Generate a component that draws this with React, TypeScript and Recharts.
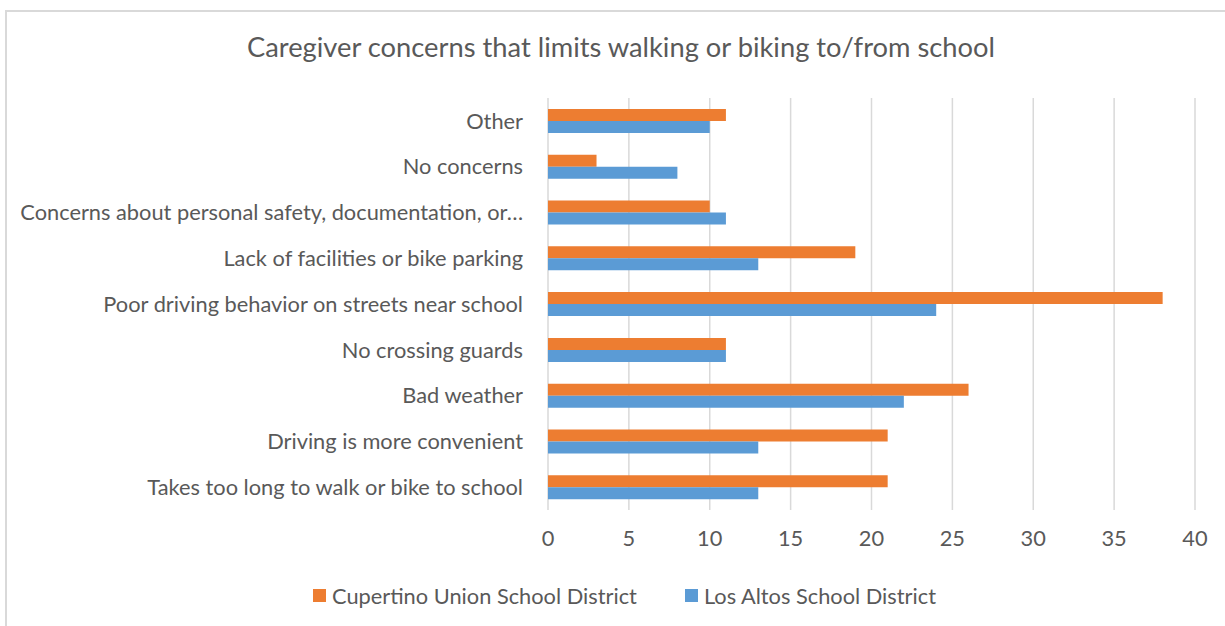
import React from 'react';
import { BarChart, Bar, XAxis, YAxis, CartesianGrid, Legend } from 'recharts';

const categories = [
  'Other',
  'No concerns',
  'Concerns about personal safety, documentation, or…',
  'Lack of facilities or bike parking',
  'Poor driving behavior on streets near school',
  'No crossing guards',
  'Bad weather',
  'Driving is more convenient',
  'Takes too long to walk or bike to school',
];
const cupertino = [11, 3, 10, 19, 38, 11, 26, 21, 21];
const losAltos = [10, 8, 11, 13, 24, 11, 22, 13, 13];
const xTicks = [0, 5, 10, 15, 20, 25, 30, 35, 40];

const SERIES_A = 'Cupertino Union School District';
const SERIES_B = 'Los Altos School District';
const ORANGE = '#ED7D31';
const BLUE = '#5B9BD5';
const TEXT = '#595959';
const FONT = 'Lato, "Liberation Sans", sans-serif';
const FS = 21.8;

const data = categories.map((name, i) => ({
  name,
  [SERIES_A]: cupertino[i],
  [SERIES_B]: losAltos[i],
}));

const renderLegend = (props: any) => {
  const { payload } = props;
  return (
    <div style={{ display: 'flex', justifyContent: 'center', alignItems: 'center', height: 40, paddingLeft: 54, boxSizing: 'border-box', fontFamily: FONT, fontSize: FS, color: TEXT }}>
      {payload.map((p: any, i: number) => (
        <div key={i} style={{ display: 'flex', alignItems: 'center', marginLeft: i === 0 ? 0 : 48 }}>
          <span style={{ display: 'inline-block', width: 13, height: 13, background: p.color, marginRight: 6 }} />
          <span>{p.value}</span>
        </div>
      ))}
    </div>
  );
};

export default function App() {
  return (
    <div style={{ position: 'fixed', left: 0, top: 0, width: 1225, height: 626, overflow: 'hidden', background: '#fff' }}>
      <div style={{ position: 'absolute', left: 5, top: 10, width: 1240, height: 640, border: '2px solid #D9D9D9', boxSizing: 'border-box' }} />
      <div style={{ position: 'absolute', left: 0, top: 30, width: 1242, textAlign: 'center', fontFamily: FONT, fontSize: 27.3, color: TEXT }}>
        Caregiver concerns that limits walking or biking to/from school
      </div>
      <div style={{ position: 'absolute', left: 0, top: 0 }}>
        <BarChart
          width={1225}
          height={626}
          data={data}
          layout="vertical"
          margin={{ top: 98, right: 30, bottom: 26, left: 0 }}
          barCategoryGap="24%"
          barGap={0}
        >
          <CartesianGrid horizontal={false} stroke="#D9D9D9" strokeWidth={1.5} />
          <XAxis
            type="number"
            domain={[0, 40]}
            ticks={xTicks}
            axisLine={false}
            tickLine={false}
            tickSize={0}
            tickMargin={21}
            height={50}
            interval={0}
            tick={{ fill: TEXT, fontSize: FS, fontFamily: FONT }}
          />
          <YAxis
            type="category"
            dataKey="name"
            width={548}
            axisLine={false}
            tickLine={false}
            tickSize={0}
            tickMargin={25}
            interval={0}
            tick={{ fill: TEXT, fontSize: FS, fontFamily: FONT }}
          />
          <Legend
            verticalAlign="bottom"
            content={renderLegend}
            wrapperStyle={{ bottom: 11, height: 40 }}
          />
          <Bar dataKey={SERIES_A} fill={ORANGE} isAnimationActive={false} />
          <Bar dataKey={SERIES_B} fill={BLUE} isAnimationActive={false} />
        </BarChart>
      </div>
    </div>
  );
}
